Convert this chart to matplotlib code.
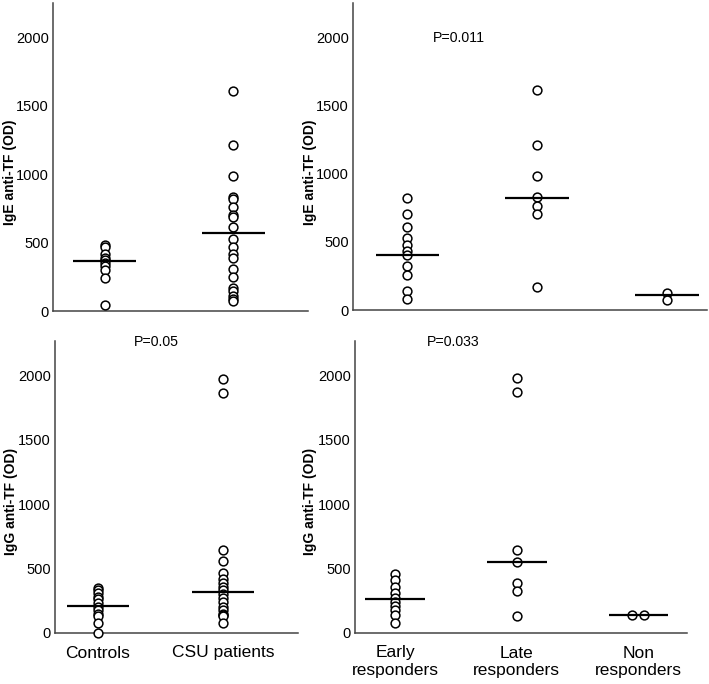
import matplotlib
matplotlib.use("Agg")
import matplotlib.pyplot as plt

plt.rcParams['font.family'] = ['Liberation Sans', 'DejaVu Sans']

# ---------------- data ----------------
cat_top_left = ["Controls", "CSU patients"]
cat_right = ["Early\nresponders", "Late\nresponders", "Non\nresponders"]

ige_controls = [480, 470, 420, 390, 370, 350, 330, 300, 240, 45]
ige_csu = [1610, 1210, 985, 830, 815, 760, 700, 690, 610, 525, 470, 420, 390,
           305, 250, 170, 145, 110, 90, 70]
ige_early = [820, 700, 610, 530, 480, 430, 400, 320, 260, 140, 80]
ige_late = [1610, 1210, 985, 830, 760, 700, 170]
ige_non = [125, 75]

igg_controls = [350, 330, 310, 280, 260, 230, 200, 180, 150, 130, 80, 0]
igg_csu = [1970, 1865, 640, 555, 465, 415, 390, 360, 330, 305, 270, 240, 205,
           175, 145, 140, 130, 75]
igg_early = [460, 410, 360, 310, 270, 240, 210, 180, 140, 80]
igg_late = [1980, 1870, 640, 550, 390, 325, 130]
igg_non = [140, 140]
igg_non_dodge = [-0.05, 0.05]

ige_lines_left = [365, 567]
ige_lines_right = [401, 818, 109]
igg_lines_left = [210, 321]
igg_lines_right = [264, 549, 140]

p_texts = ["", "P=0.011", "P=0.05", "P=0.033"]
yticks = [0, 500, 1000, 1500, 2000]
ylabels = ["IgE anti-TF (OD)", "IgE anti-TF (OD)", "IgG anti-TF (OD)", "IgG anti-TF (OD)"]

# ---------------- figure ----------------
W, H = 709, 684
fig = plt.figure(figsize=(W / 100, H / 100), dpi=100)

def rect(l, r, t, b):
    return [l / W, (H - b) / H, (r - l) / W, (b - t) / H]

axes = [
    fig.add_axes(rect(53, 308, 3, 311)),
    fig.add_axes(rect(353, 707, 3, 310)),
    fig.add_axes(rect(55, 298, 341, 633)),
    fig.add_axes(rect(355, 687, 341, 633)),
]

groups = [
    ([ige_controls, ige_csu], ige_lines_left, cat_top_left, None),
    ([ige_early, ige_late, ige_non], ige_lines_right, cat_right, None),
    ([igg_controls, igg_csu], igg_lines_left, cat_top_left, None),
    ([igg_early, igg_late, igg_non], igg_lines_right, cat_right, igg_non_dodge),
]
xlims = [(-0.4, 1.58), (-0.42, 2.31), (-0.344, 1.60), (-0.33, 2.40)]
ylims = [(0, 2250), (0, 2250), (0, 2265), (0, 2265)]
label_x = [-0.167, -0.122, -0.183, -0.136]
p_pos = [None, (0.40, 1990), (0.47, 2255), (0.48, 2255)]

for i, ax in enumerate(axes):
    data, lines, cats, dodge = groups[i]
    for j, vals in enumerate(data):
        xs = [j] * len(vals)
        if dodge is not None and j == len(data) - 1:
            xs = [j + d for d in dodge]
        ax.scatter(xs, vals, s=40, facecolors='white', edgecolors='black',
                   linewidths=1.1, zorder=3, clip_on=False)
        ax.plot([j - 0.245, j + 0.245], [lines[j], lines[j]], color='black',
                lw=1.6, zorder=4, solid_capstyle='butt')
    ax.set_xlim(*xlims[i])
    ax.set_ylim(*ylims[i])
    ax.set_yticks(yticks)
    ax.set_yticklabels([str(v) for v in yticks], fontsize=10.5)
    ax.tick_params(axis='y', length=0, pad=3)
    ax.set_xticks(range(len(cats)))
    if i >= 2:
        ax.set_xticklabels(cats, fontsize=12.5, linespacing=1.25)
        ax.tick_params(axis='x', length=0, pad=9)
    else:
        ax.set_xticklabels([])
        ax.tick_params(axis='x', length=0)
    for s in ['top', 'right']:
        ax.spines[s].set_visible(False)
    for s in ['left', 'bottom']:
        ax.spines[s].set_color('#444444')
        ax.spines[s].set_linewidth(1.1)
    ax.set_ylabel(ylabels[i], fontsize=10, fontweight='bold', va='center')
    ax.yaxis.set_label_coords(label_x[i], 0.45)
    if p_pos[i] is not None:
        ax.text(p_pos[i][0], p_pos[i][1], p_texts[i], fontsize=10.2,
                ha='center', va='center', clip_on=False)

fig.savefig("out.png", dpi=100, facecolor='white')
